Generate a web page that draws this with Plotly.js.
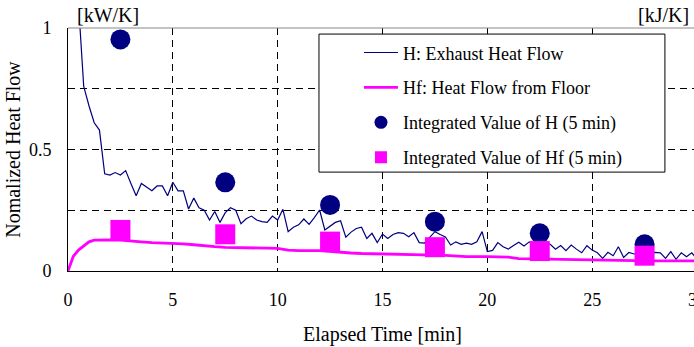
<!DOCTYPE html>
<html>
<head>
<meta charset="utf-8">
<script src="https://cdn.plot.ly/plotly-3.0.1.min.js"></script>
<style>
html,body{margin:0;padding:0;overflow:hidden;background:#fff;}
#chart{width:697px;height:347px;}
</style>
</head>
<body>
<div id="chart"></div>
<script>
// Exhaust heat flow H (normalized)
const hTime = [0.5,0.75,1.0,1.25,1.5,1.75,2.0,2.25,2.5,2.75,3.0,3.25,3.5,3.75,4.0,4.25,4.5,4.75,5.0,5.25,5.5,5.75,6.0,6.25,6.5,6.75,7.0,7.25,7.5,7.75,8.0,8.25,8.5,8.75,9.0,9.25,9.5,9.75,10.0,10.25,10.5,10.75,11.0,11.25,11.5,11.75,12.0,12.25,12.5,12.75,13.0,13.25,13.5,13.75,14.0,14.25,14.5,14.75,15.0,15.25,15.5,15.75,16.0,16.25,16.5,16.75,17.0,17.25,17.5,17.75,18.0,18.25,18.5,18.75,19.0,19.25,19.5,19.75,20.0,20.25,20.5,20.75,21.0,21.25,21.5,21.75,22.0,22.25,22.5,22.75,23.0,23.25,23.5,23.75,24.0,24.25,24.5,24.75,25.0,25.25,25.5,25.75,26.0,26.25,26.5,26.75,27.0,27.25,27.5,27.75,28.0,28.25,28.5,28.75,29.0,29.25,29.5,29.75,30.0];
const hValue = [1.1,0.76,0.68,0.61,0.58,0.40,0.395,0.405,0.395,0.413,0.36,0.31,0.36,0.345,0.33,0.35,0.35,0.31,0.365,0.33,0.33,0.255,0.30,0.26,0.25,0.21,0.245,0.20,0.24,0.26,0.25,0.195,0.215,0.226,0.21,0.203,0.20,0.226,0.21,0.254,0.162,0.18,0.19,0.214,0.192,0.22,0.251,0.169,0.185,0.20,0.207,0.139,0.16,0.175,0.18,0.134,0.155,0.117,0.152,0.134,0.15,0.158,0.155,0.141,0.158,0.117,0.115,0.14,0.162,0.15,0.14,0.107,0.12,0.11,0.115,0.11,0.12,0.162,0.08,0.085,0.117,0.10,0.09,0.105,0.118,0.103,0.12,0.11,0.12,0.115,0.11,0.09,0.105,0.084,0.107,0.09,0.075,0.104,0.086,0.075,0.052,0.077,0.063,0.10,0.056,0.076,0.07,0.07,0.08,0.075,0.077,0.075,0.052,0.08,0.048,0.075,0.059,0.075,0.048];

// Heat flow from floor Hf (normalized)
const hfTime = [0,0.25,0.5,0.75,1.0,1.25,1.5,2.0,2.5,3.0,3.5,4.0,4.5,5.0,5.5,6.0,6.5,7.0,7.5,8.0,8.5,9.0,10.0,10.5,11.0,12.0,12.5,13.0,13.5,14.0,15.0,16.0,17.0,18.0,18.5,19.0,20.0,21.0,21.5,22.0,23.0,24.0,24.5,25.0,26.0,27.0,28.0,29.0,30.0];
const hfValue = [0,0.06,0.086,0.105,0.12,0.127,0.128,0.128,0.127,0.125,0.12,0.117,0.116,0.115,0.112,0.108,0.103,0.10,0.097,0.096,0.094,0.093,0.093,0.086,0.084,0.084,0.08,0.076,0.074,0.072,0.069,0.068,0.066,0.064,0.06,0.059,0.059,0.057,0.051,0.05,0.05,0.049,0.045,0.044,0.043,0.043,0.042,0.042,0.042];

// Integrated values (5 min)
const intTime = [2.5,7.5,12.5,17.5,22.5,27.5];
const intH = [0.953,0.365,0.272,0.203,0.155,0.11];
const intHf = [0.169,0.151,0.121,0.098,0.082,0.063];

const seriesNames = ["H: Exhaust Heat Flow","Hf: Heat Flow from Floor","Integrated Value of H (5 min)","Integrated Value of Hf (5 min)"];
const xTicks = [0,5,10,15,20,25,30];
const yTicks = [0,0.25,0.5,0.75,1];
const yTickText = ["0","","0.5","","1"];

const FONT = "Liberation Serif";
const NAVY = "#000080", MAGENTA = "#FF00FF";

const traces = [
  {x:hTime,y:hValue,mode:"lines",name:seriesNames[0],legendgroup:"a",
   line:{color:NAVY,width:1.2}},
  {x:hfTime,y:hfValue,mode:"lines",name:seriesNames[1],legendgroup:"b",
   line:{color:MAGENTA,width:2.8}},
  {x:intTime,y:intH,mode:"markers",name:seriesNames[2],legendgroup:"c",showlegend:false,
   marker:{color:NAVY,size:20,symbol:"circle"}},
  {x:intTime,y:intHf,mode:"markers",name:seriesNames[3],legendgroup:"d",showlegend:false,
   marker:{color:MAGENTA,size:20,symbol:"square"}},
  // legend-only entries with the smaller legend symbol size
  {x:[null],y:[null],mode:"markers",name:seriesNames[2],legendgroup:"c",
   marker:{color:NAVY,size:13,symbol:"circle"}},
  {x:[null],y:[null],mode:"markers",name:seriesNames[3],legendgroup:"d",
   marker:{color:MAGENTA,size:12,symbol:"square"}}
];

const layout = {
  width:697,height:347,
  margin:{l:68,r:0,t:28,b:76},
  paper_bgcolor:"#fff",plot_bgcolor:"#fff",
  font:{family:FONT,size:18,color:"#000"},
  showlegend:true,
  legend:{x:0.4626,xanchor:"left",y:0.974,yanchor:"top",
    bgcolor:"rgba(0,0,0,0)",borderwidth:0,tracegroupgap:8.5,itemwidth:34,
    traceorder:"grouped",font:{family:FONT,size:18,color:"#000"}},
  xaxis:{range:[0,30],tickvals:xTicks,ticktext:xTicks.map(String),
    showline:true,linecolor:"#000",linewidth:1,ticklabeloverflow:"allow",
    showgrid:true,gridcolor:"#000",gridwidth:1,griddash:"7px,5px",
    zeroline:false,ticks:"",ticklabelstandoff:12,tickfont:{family:FONT,size:18},
    title:{text:"Elapsed Time [min]",font:{family:FONT,size:20},standoff:18}},
  yaxis:{range:[0,1],tickvals:yTicks,ticktext:yTickText,
    showline:true,linecolor:"#000",linewidth:1,
    showgrid:true,gridcolor:"#000",gridwidth:1,griddash:"7px,5px",
    zeroline:false,ticks:"",ticklabelstandoff:12,tickfont:{family:FONT,size:18},
    title:{text:"Nomalized Heat Flow",font:{family:FONT,size:20},standoff:2}},
  shapes:[
    {type:"line",xref:"paper",yref:"paper",x0:0,x1:1,y0:1,y1:1,
     line:{color:"#888",width:1}},
    {type:"rect",xref:"paper",yref:"paper",x0:0.399,x1:0.949,y0:0.407,y1:0.975,
     fillcolor:"#fff",line:{color:"#000",width:1},layer:"above"}
  ],
  annotations:[
    {text:"[kW/K]",xref:"paper",yref:"paper",x:0.011,y:1,xanchor:"left",yanchor:"bottom",
     showarrow:false,font:{family:FONT,size:20},yshift:0},
    {text:"[kJ/K]",xref:"paper",yref:"paper",x:(691-68)/629,y:1,xanchor:"right",yanchor:"bottom",
     showarrow:false,font:{family:FONT,size:20},yshift:0}
  ]
};

Plotly.newPlot("chart",traces,layout,{displayModeBar:false,staticPlot:true});
</script>
</body>
</html>
